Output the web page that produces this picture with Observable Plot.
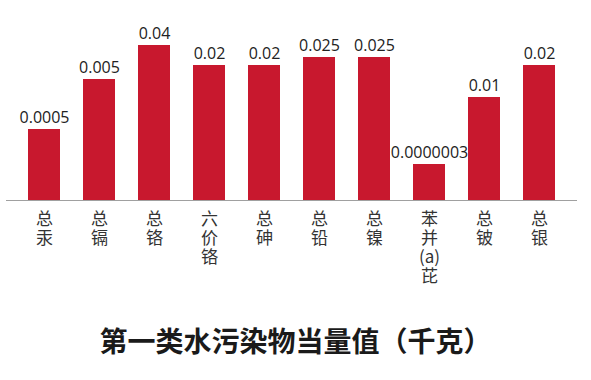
<!DOCTYPE html>
<html>
<head>
<meta charset="utf-8">
<script src="https://cdn.jsdelivr.net/npm/d3@7"></script>
<script src="https://cdn.jsdelivr.net/npm/@observablehq/plot@0.6"></script>
<style>
  html, body { margin: 0; padding: 0; background: #fff; }
  #chart svg { display: block; }
  #title { width: 591px; height: 75px; line-height: 70px; text-align: center;
    font-family: "Noto Sans CJK SC", sans-serif; font-weight: bold; font-size: 28px; color: #1a1a1a; }
</style>
</head>
<body>
<div id="chart"></div>
<div id="title">第一类水污染物当量值（千克）</div>
<script>
const categories = ["总汞", "总镉", "总铬", "六价铬", "总砷", "总铅", "总镍", "苯并(a)芘", "总铍", "总银"];
const tickLabels = ["总\n汞", "总\n镉", "总\n铬", "六\n价\n铬", "总\n砷", "总\n铅", "总\n镍", "苯\n并\n(a)\n芘", "总\n铍", "总\n银"];
const valueLabels = ["0.0005", "0.005", "0.04", "0.02", "0.02", "0.025", "0.025", "0.0000003", "0.01", "0.02"];
// bar heights as drawn in the picture (not proportional to the values)
const barHeights = [71, 121, 155, 135, 135, 143, 143, 36, 103, 135];

const data = categories.map((c, i) => ({cat: c, h: barHeights[i], label: valueLabels[i], tick: tickLabels[i]}));

const chart = Plot.plot({
  width: 591,
  height: 305,
  marginLeft: 6,
  marginRight: 14,
  marginTop: 40,
  marginBottom: 105,
  x: {domain: categories, paddingInner: 0.4228, paddingOuter: 0.3611, axis: null},
  y: {domain: [0, 160], axis: null},
  marks: [
    Plot.barY(data, {x: "cat", y: "h", fill: "#c8182e"}),
    Plot.ruleY([0], {stroke: "#a0a0a0", strokeWidth: 1}),
    Plot.text(data, {x: "cat", y: "h", text: "label", dy: -7, lineAnchor: "bottom",
      fontSize: 16, fontFamily: "Open Sans", fill: "#222"}),
    Plot.text(data, {x: "cat", frameAnchor: "bottom", text: "tick", lineAnchor: "top", dy: 11,
      fontSize: 17, lineHeight: 1.12, fontFamily: "Noto Sans CJK SC", fill: "#333"})
  ]
});
document.getElementById("chart").appendChild(chart);
</script>
</body>
</html>
